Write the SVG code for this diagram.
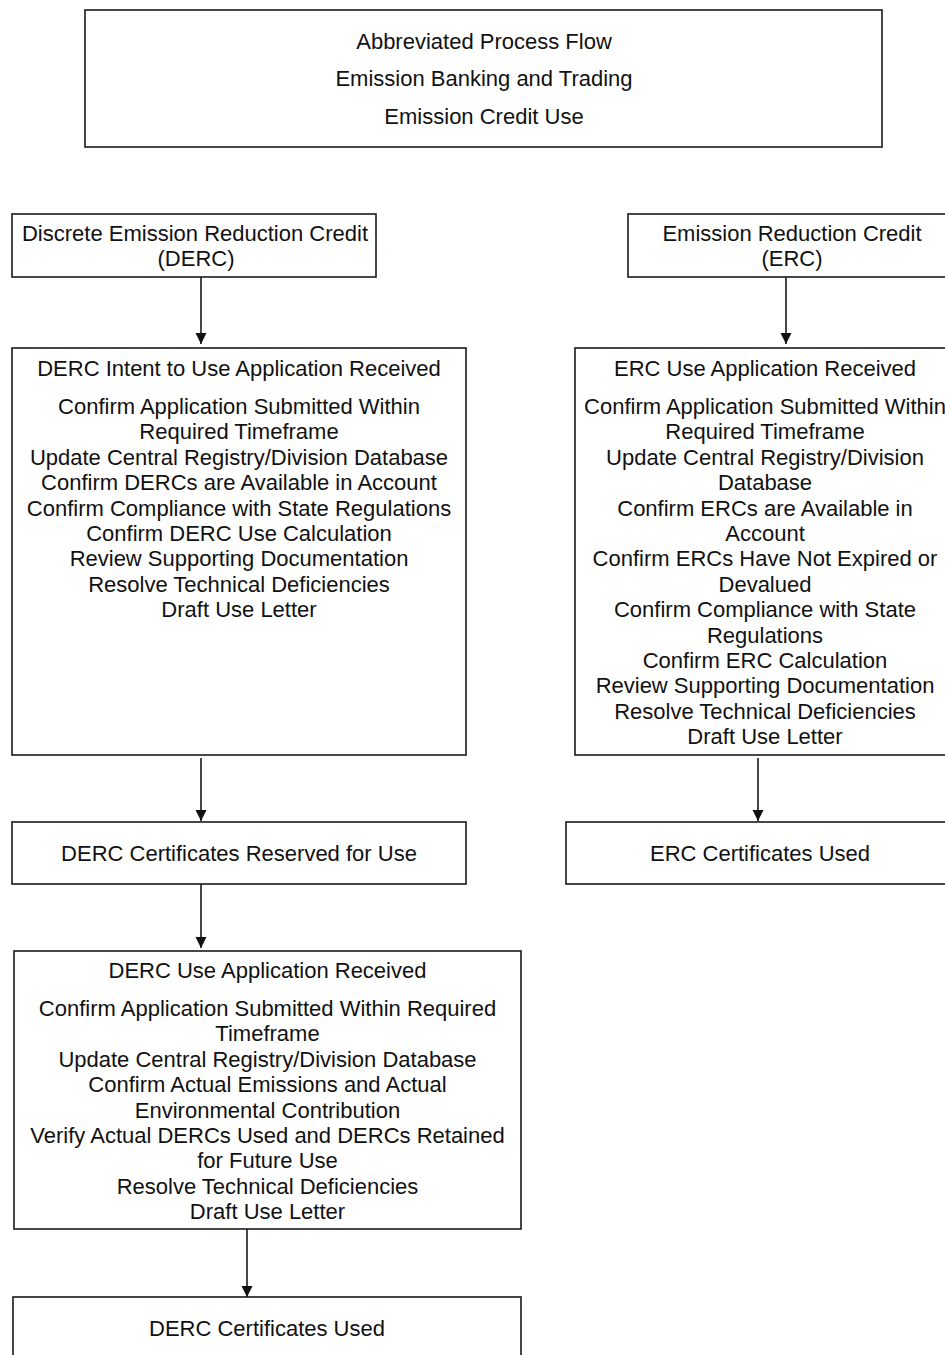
<svg xmlns="http://www.w3.org/2000/svg" width="945" height="1355" viewBox="0 0 945 1355">
<defs>
<style>
.box{fill:#fff;stroke:#1a1a1a;stroke-width:1.6}
.t{font-family:"Liberation Sans",Arial,sans-serif;font-size:22px;fill:#111;text-anchor:middle}
.c{stroke:#1a1a1a;stroke-width:1.6;fill:none;marker-end:url(#ah)}
</style>
<marker id="ah" markerUnits="userSpaceOnUse" markerWidth="12" markerHeight="12" refX="11" refY="6" orient="auto">
<path d="M0,0.5 L11,6 L0,11.5 z" fill="#111"/>
</marker>
</defs>
<rect width="945" height="1355" fill="#fff"/>
<g id="title">
<rect class="box" x="85" y="10" width="797" height="137"/>
<text class="t" x="484" y="49">Abbreviated Process Flow</text>
<text class="t" x="484" y="86">Emission Banking and Trading</text>
<text class="t" x="484" y="124">Emission Credit Use</text>
</g>
<g id="derc">
<rect class="box" x="12" y="214" width="364" height="63"/>
<text class="t" x="195" y="241">Discrete Emission Reduction Credit</text>
<text class="t" x="196" y="266">(DERC)</text>
</g>
<g id="erc">
<rect class="box" x="628" y="214" width="328" height="63"/>
<text class="t" x="792" y="241">Emission Reduction Credit</text>
<text class="t" x="792" y="266">(ERC)</text>
</g>
<g id="derc-intent">
<rect class="box" x="12" y="348" width="454" height="407"/>
<text class="t" x="239" y="376">DERC Intent to Use Application Received</text>
<text class="t" x="239" y="414">Confirm Application Submitted Within</text>
<text class="t" x="239" y="439.4">Required Timeframe</text>
<text class="t" x="239" y="464.8">Update Central Registry/Division Database</text>
<text class="t" x="239" y="490.2">Confirm DERCs are Available in Account</text>
<text class="t" x="239" y="515.6">Confirm Compliance with State Regulations</text>
<text class="t" x="239" y="541">Confirm DERC Use Calculation</text>
<text class="t" x="239" y="566.4">Review Supporting Documentation</text>
<text class="t" x="239" y="591.8">Resolve Technical Deficiencies</text>
<text class="t" x="239" y="617.2">Draft Use Letter</text>
</g>
<g id="erc-use">
<rect class="box" x="575" y="348" width="380" height="407"/>
<text class="t" x="765" y="376">ERC Use Application Received</text>
<text class="t" x="765" y="414">Confirm Application Submitted Within</text>
<text class="t" x="765" y="439.4">Required Timeframe</text>
<text class="t" x="765" y="464.8">Update Central Registry/Division</text>
<text class="t" x="765" y="490.2">Database</text>
<text class="t" x="765" y="515.6">Confirm ERCs are Available in</text>
<text class="t" x="765" y="541">Account</text>
<text class="t" x="765" y="566.4">Confirm ERCs Have Not Expired or</text>
<text class="t" x="765" y="591.8">Devalued</text>
<text class="t" x="765" y="617.2">Confirm Compliance with State</text>
<text class="t" x="765" y="642.6">Regulations</text>
<text class="t" x="765" y="668">Confirm ERC Calculation</text>
<text class="t" x="765" y="693.4">Review Supporting Documentation</text>
<text class="t" x="765" y="718.8">Resolve Technical Deficiencies</text>
<text class="t" x="765" y="744.2">Draft Use Letter</text>
</g>
<g id="derc-reserved">
<rect class="box" x="12" y="822" width="454" height="62"/>
<text class="t" x="239" y="861">DERC Certificates Reserved for Use</text>
</g>
<g id="erc-used">
<rect class="box" x="566" y="822" width="390" height="62"/>
<text class="t" x="760" y="861">ERC Certificates Used</text>
</g>
<g id="derc-use">
<rect class="box" x="14" y="951" width="507" height="278"/>
<text class="t" x="267.5" y="978">DERC Use Application Received</text>
<text class="t" x="267.5" y="1016">Confirm Application Submitted Within Required</text>
<text class="t" x="267.5" y="1041.4">Timeframe</text>
<text class="t" x="267.5" y="1066.8">Update Central Registry/Division Database</text>
<text class="t" x="267.5" y="1092.2">Confirm Actual Emissions and Actual</text>
<text class="t" x="267.5" y="1117.6">Environmental Contribution</text>
<text class="t" x="267.5" y="1143">Verify Actual DERCs Used and DERCs Retained</text>
<text class="t" x="267.5" y="1168.4">for Future Use</text>
<text class="t" x="267.5" y="1193.8">Resolve Technical Deficiencies</text>
<text class="t" x="267.5" y="1219.2">Draft Use Letter</text>
</g>
<g id="derc-used">
<rect class="box" x="13" y="1297" width="508" height="80"/>
<text class="t" x="267" y="1336">DERC Certificates Used</text>
</g>
<g id="connectors">
<line class="c" x1="201" y1="277" x2="201" y2="344"/>
<line class="c" x1="786" y1="277" x2="786" y2="344"/>
<line class="c" x1="201" y1="758" x2="201" y2="821"/>
<line class="c" x1="758" y1="758" x2="758" y2="821"/>
<line class="c" x1="201" y1="884" x2="201" y2="948"/>
<line class="c" x1="247" y1="1229" x2="247" y2="1297"/>
</g>
</svg>
